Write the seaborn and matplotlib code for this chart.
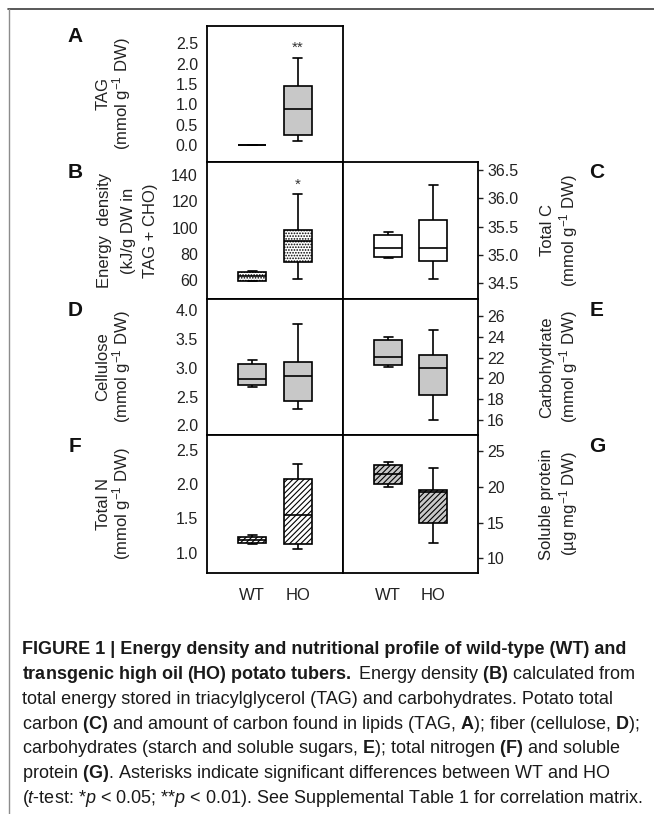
import numpy as np
import pandas as pd
import matplotlib
matplotlib.use("Agg")
import matplotlib.pyplot as plt
import seaborn as sns
from matplotlib import font_manager
from matplotlib.lines import Line2D

# groups on the x axis
groups = ["WT", "HO"]

# five-number summaries: min, Q1, median, Q3, max
tag_wt = [0.0, 0.0, 0.0, 0.0, 0.0]
tag_ho = [0.10, 0.25, 0.88, 1.45, 2.15]
energy_wt = [58.9, 59.5, 63.0, 66.3, 66.8]
energy_ho = [60.5, 73.4, 89.8, 98.5, 125.3]
totalc_wt = [34.95, 34.97, 35.12, 35.35, 35.40]
totalc_ho = [34.57, 34.90, 35.12, 35.62, 36.24]
cellulose_wt = [2.66, 2.70, 2.80, 3.07, 3.14]
cellulose_ho = [2.28, 2.42, 2.86, 3.10, 3.77]
carb_wt = [21.1, 21.25, 22.1, 23.7, 24.0]
carb_ho = [16.0, 18.4, 20.96, 22.25, 24.65]
totaln_wt = [1.12, 1.14, 1.19, 1.23, 1.25]
totaln_ho = [1.05, 1.12, 1.55, 2.07, 2.30]
protein_wt = [19.9, 20.4, 21.8, 23.1, 23.4]
protein_ho = [12.1, 15.0, 19.2, 19.6, 22.6]

# y ticks per panel
tag_ticks = [0.0, 0.5, 1.0, 1.5, 2.0, 2.5]
energy_ticks = [60, 80, 100, 120, 140]
totalc_ticks = [34.5, 35.0, 35.5, 36.0, 36.5]
cellulose_ticks = [2.0, 2.5, 3.0, 3.5, 4.0]
carb_ticks = [16, 18, 20, 22, 24, 26]
totaln_ticks = [1.0, 1.5, 2.0, 2.5]
protein_ticks = [10, 15, 20, 25]

sns.set_theme(style="white")
names = {f.name for f in font_manager.fontManager.ttflist}
narrow = "Liberation Sans Narrow" if "Liberation Sans Narrow" in names else "Liberation Sans"
plt.rcParams["font.family"] = ["Liberation Sans", "DejaVu Sans"]
plt.rcParams["mathtext.fontset"] = "custom"
plt.rcParams["mathtext.default"] = "regular"
plt.rcParams["mathtext.rm"] = narrow
plt.rcParams["mathtext.bf"] = narrow + ":bold"
plt.rcParams["mathtext.it"] = narrow + ":italic"
plt.rcParams["hatch.linewidth"] = 0.8

W, H = 654, 814
fig = plt.figure(figsize=(W / 100, H / 100), dpi=100)


def px_rect(x0, y0, x1, y1):
    return [x0 / W, 1 - y1 / H, (x1 - x0) / W, (y1 - y0) / H]


cols = {"L": (207, 343), "R": (343, 478)}
rows = {0: (26, 162), 1: (162, 299), 2: (299, 435), 3: (435, 573)}
GRAY = "#c8c8c8"

panels = [
    ("A", tag_wt, tag_ho, (-0.42, 2.93), tag_ticks, "{:.1f}", ["TAG", "(mmol g$^{-1}$ DW)"], "L", 0, GRAY, None, "**"),
    ("B", energy_wt, energy_ho, (45.5, 150), energy_ticks, "{:.0f}",
     ["Energy  density", "(kJ/g DW in", "TAG + CHO)"], "L", 1, "white", "......", "*"),
    ("C", totalc_wt, totalc_ho, (34.22, 36.64), totalc_ticks, "{:.1f}", ["Total C", "(mmol g$^{-1}$ DW)"], "R", 1, "white", None, None),
    ("D", cellulose_wt, cellulose_ho, (1.83, 4.2), cellulose_ticks, "{:.1f}", ["Cellulose", "(mmol g$^{-1}$ DW)"], "L", 2, GRAY, None, None),
    ("E", carb_wt, carb_ho, (14.56, 27.63), carb_ticks, "{:.0f}", ["Carbohydrate", "(mmol g$^{-1}$ DW)"], "R", 2, GRAY, None, None),
    ("F", totaln_wt, totaln_ho, (0.70, 2.72), totaln_ticks, "{:.1f}", ["Total N", "(mmol g$^{-1}$ DW)"], "L", 3, "white", "//////", None),
    ("G", protein_wt, protein_ho, (7.94, 27.24), protein_ticks, "{:.0f}", ["Soluble protein", "(µg mg$^{-1}$ DW)"], "R", 3, GRAY, "//////", None),
]

for letter, wt, ho, ylim, ticks, fmt, label, col, row, fill, hatch, star in panels:
    x0, x1 = cols[col]
    y0, y1 = rows[row]
    ax = fig.add_axes(px_rect(x0, y0, x1, y1))
    df = pd.DataFrame({"group": np.repeat(groups, len(wt)), "value": wt + ho})
    sns.boxplot(data=df, x="group", y="value", order=groups, ax=ax, color=fill,
                saturation=1, linecolor="black", linewidth=1.2, width=0.62,
                whis=(0, 100), fliersize=0, capwidths=0.2)
    for p in ax.patches:
        p.set_facecolor(fill)
        p.set_edgecolor("black")
        if hatch:
            p.set_hatch(hatch)
    ax.set_xlim(-1, 2)
    ax.set_ylim(*ylim)
    ax.set_yticks(ticks)
    ax.set_yticklabels([fmt.format(t) for t in ticks])
    ax.set_xlabel("")
    ax.set_ylabel("")
    if col == "R":
        ax.yaxis.tick_right()
    if row == 3:
        ax.set_xticks([0, 1])
        ax.set_xticklabels(groups)
    else:
        ax.set_xticks([])
    for s in ax.spines.values():
        s.set_linewidth(1.3)
        s.set_color("black")
    ax.tick_params(direction="out", length=3.5, width=1, labelsize=11.5,
                   pad=3, colors="#222222")
    ax.tick_params(axis="x", pad=7, labelsize=12)
    if star:
        ax.text(1, ho[-1] + (ylim[1] - ylim[0]) * 0.07, star, ha="center",
                va="center", fontsize=11, color="#333333")

    # axis labels and panel letters
    yc = (y0 + y1) / 2
    if col == "L":
        xs = [103, 122] if len(label) == 2 else [105, 128, 150]
        lx = 75
    else:
        xs = [547, 569]
        lx = 597
    for xx, txt in zip(xs, label):
        fig.text(xx / W, 1 - yc / H, txt, rotation=90, ha="center", va="center",
                 fontsize=12, color="#222222")
    fig.text(lx / W, 1 - (y0 + 11) / H, letter, ha="center", va="center",
             fontsize=15, fontweight="bold", color="#111111")

# frame lines of the figure page
fig.add_artist(Line2D([8 / W, 1], [1 - 9 / H, 1 - 9 / H], color="#3c3c3c", lw=1.2))
fig.add_artist(Line2D([8.5 / W, 8.5 / W], [0, 1 - 9 / H], color="#8c8c8c", lw=1.0))

# caption
caption = [
    "FIGURE 1 | Energy density and nutritional profile of wild-type (WT) and",
    r"$\mathbf{transgenic\ high\ oil\ (HO)\ potato\ tubers.}\;$Energy density $\mathbf{(B)}$ calculated from",
    "total energy stored in triacylglycerol (TAG) and carbohydrates. Potato total",
    r"carbon $\mathbf{(C)}$ and amount of carbon found in lipids (TAG, $\mathbf{A}$); fiber (cellulose, $\mathbf{D}$);",
    r"carbohydrates (starch and soluble sugars, $\mathbf{E}$); total nitrogen $\mathbf{(F)}$ and soluble",
    r"protein $\mathbf{(G)}$. Asterisks indicate significant differences between WT and HO",
    r"($\mathit{t}$-test: *$\mathit{p}$ < 0.05; **$\mathit{p}$ < 0.01). See Supplemental Table 1 for correlation matrix.",
]
# the caption font size is chosen so the longest lines fit the text column
renderer = fig.canvas.get_renderer()
ratios = []
for i, target in [(0, 614), (3, 618), (6, 619)]:
    probe = fig.text(0, 0, caption[i], fontsize=12, family=narrow,
                     fontweight="bold" if i == 0 else "normal")
    ratios.append(target / probe.get_window_extent(renderer).width)
    probe.remove()
csize = 12 * min(ratios)
for i, line in enumerate(caption):
    base = 654 + 24.85 * i
    fig.text(22 / W, 1 - base / H, line, fontsize=csize, family=narrow,
             fontweight="bold" if i == 0 else "normal", va="baseline",
             color="#1a1a1a")

fig.savefig("out.png", dpi=100)
